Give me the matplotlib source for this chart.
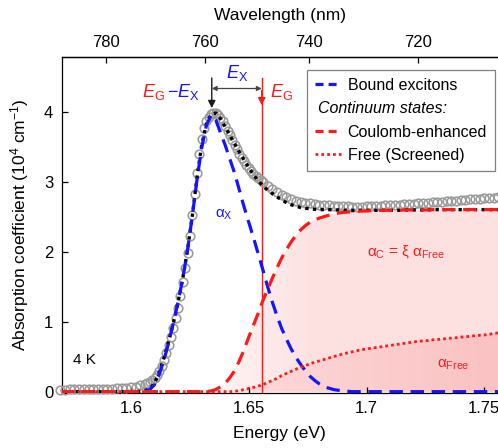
import numpy as np
import matplotlib
matplotlib.use("Agg")
import matplotlib.pyplot as plt
from matplotlib.lines import Line2D
from matplotlib.colors import to_rgb

plt.rcParams['font.family'] = ['Liberation Sans', 'DejaVu Sans']
plt.rcParams['mathtext.fontset'] = 'custom'
plt.rcParams['mathtext.rm'] = 'Liberation Sans'
plt.rcParams['mathtext.it'] = 'Liberation Sans:italic'
plt.rcParams['mathtext.bf'] = 'Liberation Sans:bold'

# measured absorption at 4 K (10^4 cm^-1)
energy_data = [
    1.570, 1.572, 1.574, 1.576, 1.578, 1.580, 1.582, 1.584, 1.586, 1.588,
    1.590, 1.592, 1.594, 1.596, 1.598, 1.600, 1.602, 1.604, 1.606,
    1.607, 1.608, 1.609, 1.610, 1.611, 1.612, 1.613, 1.614, 1.615, 1.616,
    1.617, 1.618, 1.619, 1.620, 1.621, 1.622, 1.623, 1.624, 1.625, 1.626,
    1.627, 1.628, 1.629, 1.630, 1.631, 1.632, 1.633, 1.634, 1.635, 1.636,
    1.637, 1.638, 1.639, 1.640, 1.641, 1.642, 1.643, 1.644, 1.645, 1.646,
    1.647, 1.648, 1.649, 1.650, 1.651, 1.652, 1.653, 1.654, 1.655, 1.656,
    1.658, 1.660, 1.662, 1.664, 1.666, 1.668, 1.670, 1.672, 1.674, 1.676,
    1.678, 1.680, 1.682, 1.684, 1.686, 1.688, 1.690, 1.692, 1.694, 1.696,
    1.698, 1.700, 1.702, 1.704, 1.706, 1.708, 1.710, 1.712, 1.714, 1.716,
    1.718, 1.720, 1.722, 1.724, 1.726, 1.728, 1.730, 1.732, 1.734, 1.736,
    1.738, 1.740, 1.742, 1.744, 1.746, 1.748, 1.750, 1.752, 1.754, 1.756,
]
alpha_data = [
    0.030, 0.030, 0.031, 0.032, 0.033, 0.034, 0.035, 0.036, 0.038, 0.040,
    0.042, 0.044, 0.047, 0.050, 0.055, 0.062, 0.072, 0.088, 0.110,
    0.125, 0.145, 0.170, 0.200, 0.245, 0.300, 0.370, 0.450, 0.550, 0.660,
    0.780, 0.910, 1.050, 1.200, 1.370, 1.560, 1.760, 1.980, 2.230, 2.520,
    2.830, 3.130, 3.400, 3.610, 3.760, 3.860, 3.920, 3.960, 3.980, 3.980,
    3.950, 3.910, 3.860, 3.800, 3.730, 3.660, 3.590, 3.520, 3.460, 3.400,
    3.340, 3.290, 3.240, 3.190, 3.150, 3.110, 3.080, 3.050, 3.020, 2.990,
    2.940, 2.900, 2.850, 2.810, 2.780, 2.750, 2.730, 2.710, 2.700, 2.690,
    2.680, 2.670, 2.665, 2.660, 2.655, 2.650, 2.650, 2.645, 2.640, 2.640,
    2.640, 2.645, 2.650, 2.650, 2.655, 2.660, 2.660, 2.665, 2.670, 2.675,
    2.680, 2.685, 2.690, 2.695, 2.700, 2.705, 2.710, 2.715, 2.720, 2.725,
    2.730, 2.735, 2.740, 2.745, 2.750, 2.755, 2.760, 2.765, 2.770, 2.775,
]

# model components on a common energy grid
energy_fit = [
    1.570, 1.572, 1.574, 1.576, 1.578, 1.580, 1.582, 1.584, 1.586, 1.588,
    1.590, 1.592, 1.594, 1.596, 1.598, 1.600, 1.602, 1.604, 1.606, 1.608,
    1.610, 1.612, 1.614, 1.616, 1.618, 1.620, 1.622, 1.624, 1.626, 1.628,
    1.630, 1.632, 1.634, 1.636, 1.638, 1.640, 1.642, 1.644, 1.646, 1.648,
    1.650, 1.652, 1.654, 1.656, 1.658, 1.660, 1.662, 1.664, 1.666, 1.668,
    1.670, 1.672, 1.674, 1.676, 1.678, 1.680, 1.682, 1.684, 1.686, 1.688,
    1.690, 1.692, 1.694, 1.696, 1.698, 1.700, 1.702, 1.704, 1.706, 1.708,
    1.710, 1.712, 1.714, 1.716, 1.718, 1.720, 1.722, 1.724, 1.726, 1.728,
    1.730, 1.732, 1.734, 1.736, 1.738, 1.740, 1.742, 1.744, 1.746, 1.748,
    1.750, 1.752, 1.754, 1.756,
]
fit_total = [
    0, 0, 0, 0, 0, 0, 0, 0, 0, 0,
    0, 0, 0, 0, 0, 0, 0, 0.005, 0.015, 0.04,
    0.12, 0.28, 0.48, 0.72, 0.98, 1.28, 1.62, 2.02, 2.50, 3.05,
    3.52, 3.82, 3.96, 3.98, 3.90, 3.78, 3.66, 3.54, 3.42, 3.31,
    3.20, 3.10, 3.01, 2.94, 2.88, 2.83, 2.78, 2.74, 2.70, 2.67,
    2.65, 2.63, 2.62, 2.61, 2.605, 2.60, 2.60, 2.60, 2.595, 2.595,
    2.59, 2.59, 2.59, 2.59, 2.59, 2.59, 2.59, 2.59, 2.59, 2.59,
    2.59, 2.59, 2.59, 2.595, 2.595, 2.595, 2.595, 2.595, 2.595, 2.60,
    2.60, 2.60, 2.60, 2.60, 2.60, 2.60, 2.60, 2.60, 2.60, 2.60,
    2.60, 2.60, 2.60, 2.60,
]
alpha_exciton = [
    0, 0, 0, 0, 0, 0, 0, 0, 0, 0,
    0, 0, 0, 0, 0, 0, 0, 0, 0.005, 0.03,
    0.10, 0.25, 0.45, 0.70, 0.98, 1.28, 1.62, 2.02, 2.50, 3.02,
    3.48, 3.80, 3.95, 3.88, 3.70, 3.52, 3.32, 3.12, 2.88, 2.64,
    2.42, 2.20, 1.97, 1.74, 1.50, 1.28, 1.08, 0.90, 0.75, 0.61,
    0.49, 0.39, 0.30, 0.22, 0.16, 0.11, 0.07, 0.05, 0.03, 0.02,
    0.01, 0.005, 0, 0, 0, 0, 0, 0, 0, 0,
    0, 0, 0, 0, 0, 0, 0, 0, 0, 0,
    0, 0, 0, 0, 0, 0, 0, 0, 0, 0,
    0, 0, 0, 0,
]
alpha_coulomb = [
    0, 0, 0, 0, 0, 0, 0, 0, 0, 0,
    0, 0, 0, 0, 0, 0, 0, 0, 0, 0,
    0, 0, 0, 0, 0, 0, 0, 0, 0, 0,
    0, 0, 0.01, 0.03, 0.07, 0.12, 0.20, 0.30, 0.44, 0.60,
    0.78, 0.95, 1.12, 1.30, 1.46, 1.62, 1.77, 1.91, 2.03, 2.14,
    2.23, 2.31, 2.37, 2.42, 2.45, 2.48, 2.50, 2.52, 2.54, 2.55,
    2.56, 2.565, 2.57, 2.575, 2.58, 2.58, 2.585, 2.585, 2.59, 2.59,
    2.59, 2.59, 2.59, 2.595, 2.595, 2.595, 2.595, 2.595, 2.595, 2.60,
    2.60, 2.60, 2.60, 2.60, 2.60, 2.60, 2.60, 2.60, 2.60, 2.60,
    2.60, 2.60, 2.60, 2.60,
]
alpha_free = [
    0, 0, 0, 0, 0, 0, 0, 0, 0, 0,
    0, 0, 0, 0, 0, 0, 0, 0, 0, 0,
    0, 0, 0, 0, 0, 0, 0, 0, 0, 0,
    0, 0, 0, 0, 0, 0, 0, 0.005, 0.015, 0.03,
    0.045, 0.06, 0.08, 0.10, 0.13, 0.16, 0.19, 0.23, 0.26, 0.29,
    0.32, 0.35, 0.37, 0.40, 0.42, 0.44, 0.46, 0.48, 0.50, 0.52,
    0.54, 0.555, 0.57, 0.585, 0.60, 0.61, 0.62, 0.63, 0.64, 0.65,
    0.66, 0.67, 0.68, 0.69, 0.70, 0.71, 0.72, 0.725, 0.73, 0.74,
    0.745, 0.75, 0.76, 0.765, 0.77, 0.78, 0.785, 0.79, 0.80, 0.805,
    0.81, 0.82, 0.83, 0.84,
]

E_G = 1.6555          # band gap (eV)
E_X = 0.0212          # exciton binding energy (eV)
energy_ticks = [1.6, 1.65, 1.7, 1.75]
wavelength_ticks = [780, 760, 740, 720]
alpha_ticks = [0, 1, 2, 3, 4]

BLUE = '#1414ff'
RED = '#ff1a1a'


def ev_to_nm(x):
    x = np.asarray(x, dtype=float)
    with np.errstate(divide='ignore'):
        return 1239.84 / x


def gradient_fill(ax, x, y0, y1, c_left, c_right, x_left, x_right, z):
    """Fill between y0 and y1 with a left-to-right colour ramp."""
    region = ax.fill_between(x, y0, y1, facecolor='none', edgecolor='none', zorder=z)
    xs = np.linspace(x[0], x[-1], 400)
    t = np.clip((xs - x_left) / (x_right - x_left), 0, 1)[:, None]
    rgb = (1 - t) * np.array(to_rgb(c_left)) + t * np.array(to_rgb(c_right))
    im = ax.imshow(rgb[None, :, :], extent=(x[0], x[-1], 0, max(y1) + 0.05),
                   origin='lower', aspect='auto', zorder=z, interpolation='bilinear')
    im.set_clip_path(region.get_paths()[0], transform=ax.transData)


fig = plt.figure(figsize=(4.98, 4.48), dpi=100)
ax = fig.add_axes([0.1239, 0.1228, 0.8761, 0.75])

e = np.array(energy_fit)

# shaded continuum contributions
gradient_fill(ax, e, np.zeros_like(e), np.array(alpha_coulomb),
              '#fff2f2', '#fde0e0', 1.640, 1.680, 0.5)
gradient_fill(ax, e, np.zeros_like(e), np.array(alpha_free),
              '#fdd8d8', '#fac2c2', 1.650, 1.756, 0.6)

# band gap marker
ax.plot([E_G, E_G], [0, 4.48], color=RED, lw=1.0, zorder=1)
ax.annotate('', xy=(E_G, 4.09), xytext=(E_G, 4.30),
            arrowprops=dict(arrowstyle='-|>', color=RED, lw=1.0, mutation_scale=11,
                            shrinkA=0, shrinkB=0), zorder=6)
ax.annotate('', xy=(E_G - E_X, 4.05), xytext=(E_G - E_X, 4.48),
            arrowprops=dict(arrowstyle='-|>', color='#1a1a1a', lw=1.0, mutation_scale=11,
                            shrinkA=0, shrinkB=0), zorder=6)
ax.annotate('', xy=(E_G - E_X, 4.33), xytext=(E_G, 4.33),
            arrowprops=dict(arrowstyle='<|-|>', color='#444444', lw=0.9, mutation_scale=7,
                            shrinkA=0, shrinkB=0), zorder=6)

# data and model curves
ax.plot(energy_data, alpha_data, 'o', ms=6.2, mfc='none', mec='#9a9a9a', mew=1.15,
        zorder=3, clip_on=False)
ax.plot(energy_fit, fit_total, color='black', lw=2.4, ls=(0, (1, 1.3)), zorder=4)
ax.plot(energy_fit, alpha_exciton, color=BLUE, lw=2.3, ls=(0, (4.2, 2.4)), zorder=5)
ax.plot(energy_fit, alpha_coulomb, color=RED, lw=2.3, ls=(0, (4.2, 2.4)), zorder=5)
ax.plot(energy_fit, alpha_free, color=RED, lw=2.0, ls=(0, (1, 1.1)), zorder=5)

# labels on the plot
ax.text(E_G - E_X - 0.0198, 4.21, r'$E_\mathrm{G}$', color=RED, fontsize=13,
        ha='right', va='baseline')
ax.text(E_G - E_X - 0.0188, 4.21, r'$-E_\mathrm{X}$', color=BLUE, fontsize=13,
        ha='left', va='baseline')
ax.text(E_G - E_X / 2, 4.48, r'$E_\mathrm{X}$', color=BLUE, fontsize=13,
        ha='center', va='baseline')
ax.text(E_G + 0.0035, 4.21, r'$E_\mathrm{G}$', color=RED, fontsize=13,
        ha='left', va='baseline')
ax.text(1.6357, 2.49, r'α$_\mathrm{X}$', color=BLUE, fontsize=11,
        ha='left', va='baseline')
ax.text(1.7000, 1.95, r'α$_\mathrm{C}$ = ξ α$_\mathrm{Free}$', color=RED,
        fontsize=11, ha='left', va='baseline')
ax.text(1.7298, 0.34, r'α$_\mathrm{Free}$', color=RED, fontsize=11,
        ha='left', va='baseline')
ax.text(1.5754, 0.45, '4 K', color='black', fontsize=11, ha='left', va='center')

# axes
ax.set_xlim(1.5706, 1.7558)
ax.set_ylim(-0.019, 4.78)
ax.set_xticks(energy_ticks)
ax.set_xticklabels(['1.6', '1.65', '1.7', '1.75'])
ax.set_yticks(alpha_ticks)
ax.tick_params(direction='in', length=4.5, width=0.9, labelsize=12, pad=6,
               top=False, right=False)
ax.spines['right'].set_visible(False)
for s in ('left', 'bottom', 'top'):
    ax.spines[s].set_linewidth(0.9)
ax.set_xlabel('Energy (eV)', fontsize=12.5, labelpad=7)
ax.set_ylabel(r'Absorption coefficient (10$^{4}$ cm$^{-1}$)', fontsize=12.5, labelpad=9)

top = ax.secondary_xaxis('top', functions=(ev_to_nm, ev_to_nm))
top.set_xticks(wavelength_ticks)
top.tick_params(direction='in', length=4.5, width=0.9, labelsize=12, pad=5)
top.spines['top'].set_linewidth(0.9)
top.set_xlabel('Wavelength (nm)', fontsize=12.5, labelpad=11)

# legend
handles = [
    Line2D([], [], color=BLUE, lw=2.3, ls=(0, (2.5, 1.6))),
    Line2D([], [], ls='none'),
    Line2D([], [], color=RED, lw=2.3, ls=(0, (2.5, 1.6))),
    Line2D([], [], color=RED, lw=2.0, ls=(0, (1, 1.1))),
]
labels = ['Bound excitons', 'Continuum states:', 'Coulomb-enhanced', 'Free (Screened)']
leg = ax.legend(handles, labels, loc='upper left', bbox_to_anchor=(0.6165, 0.8438),
                bbox_transform=fig.transFigure, borderaxespad=0, fancybox=False,
                edgecolor='#808080', framealpha=1, fontsize=11.5, handlelength=1.6,
                handletextpad=0.45, labelspacing=0.52, borderpad=0.5)
leg.get_frame().set_linewidth(0.9)
leg.set_zorder(10)
cont = leg.get_texts()[1]
cont.set_fontstyle('italic')
cont.set_x(-30)

fig.savefig('out.png', dpi=100)
